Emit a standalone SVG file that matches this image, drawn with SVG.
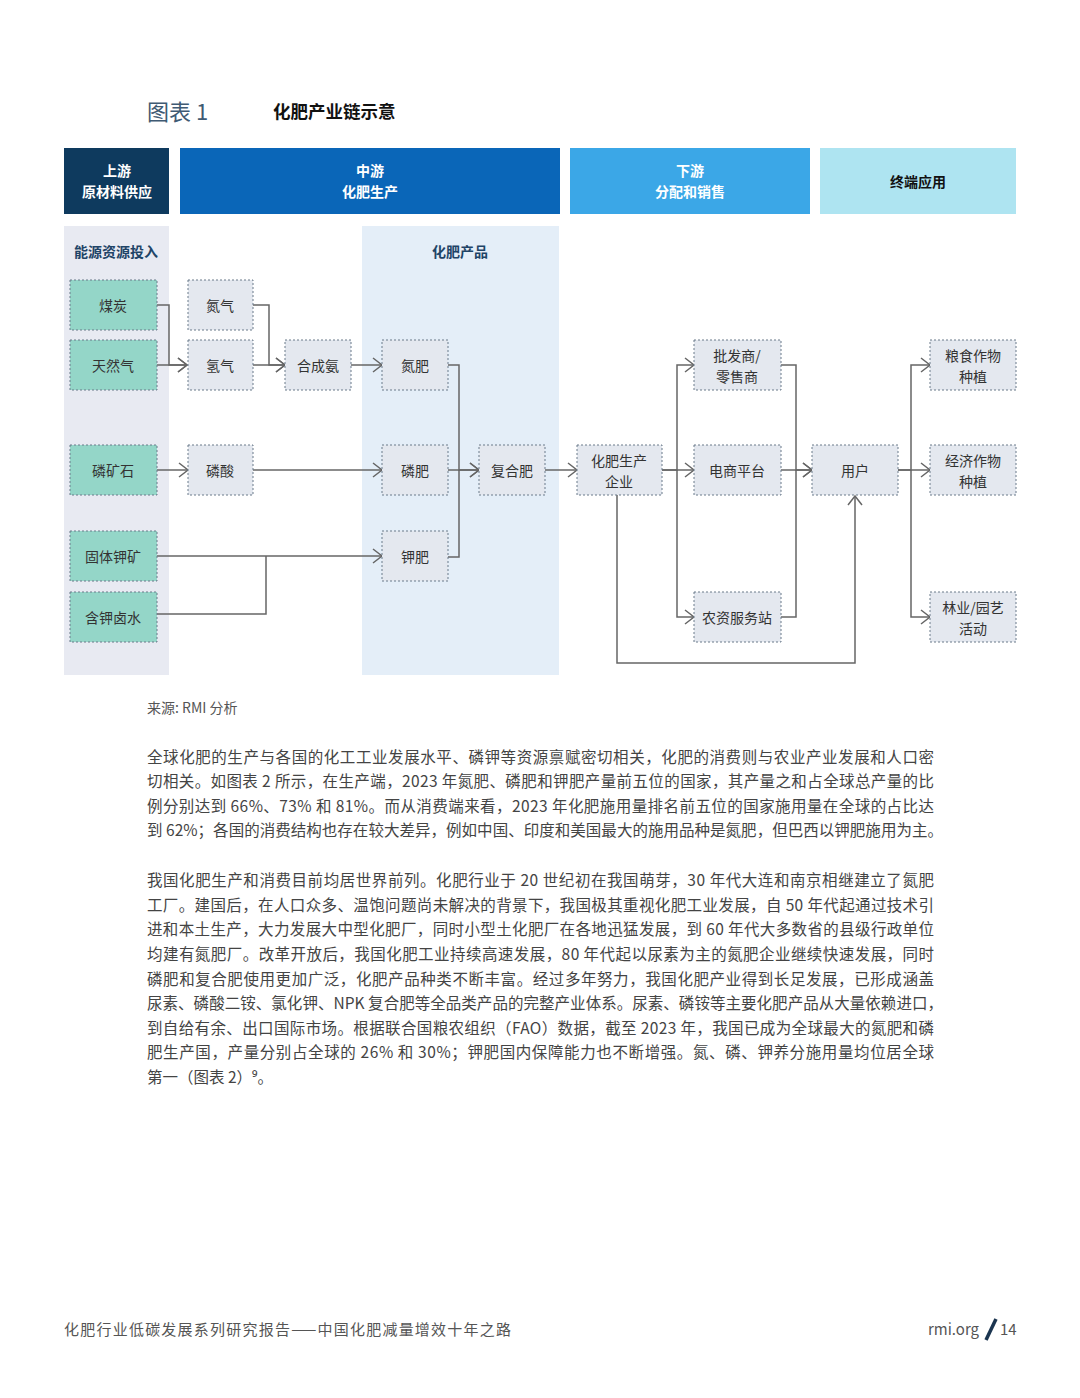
<svg xmlns="http://www.w3.org/2000/svg" width="1080" height="1398" viewBox="0 0 1080 1398">
<defs>
<marker id="arr" markerUnits="userSpaceOnUse" markerWidth="14" markerHeight="16" viewBox="0 0 14 16" refX="10" refY="8" orient="auto">
<path d="M1,1 L10,8 L1,15" fill="none" stroke="#666" stroke-width="1.5"/>
</marker>
<style>
text{font-family:"Noto Sans CJK SC","Noto Sans",sans-serif;}
.hd{fill:#fff;font-size:14px;font-weight:700;text-anchor:middle;dominant-baseline:central;}
.sec{fill:#1f4467;font-size:14px;font-weight:700;dominant-baseline:central;}
.teal{fill:#94d6c8;stroke:#6b7b8a;stroke-width:1;stroke-dasharray:2 2;}
.gray{fill:#e4e8ef;stroke:#6b7b8a;stroke-width:1;stroke-dasharray:2 2;}
.nt{fill:#333;font-size:14px;text-anchor:middle;dominant-baseline:central;}
.ln{fill:none;stroke:#666;stroke-width:1.5;}
.p{fill:#444;font-size:15.5px;}
</style>
</defs>
<rect width="1080" height="1398" fill="#fff"/>

<g id="title">
<text x="147" y="120" font-size="22" fill="#3f5a73">图表 1</text>
<text x="273" y="118" font-size="17.5" font-weight="700" fill="#111">化肥产业链示意</text>
</g>

<g id="headers">
<rect x="64" y="148" width="105" height="66" fill="#0e3a5e"/>
<text class="hd" x="117" y="170">上游</text>
<text class="hd" x="117" y="191">原材料供应</text>
<rect x="180" y="148" width="380" height="66" fill="#0a66b8"/>
<text class="hd" x="370" y="170">中游</text>
<text class="hd" x="370" y="191">化肥生产</text>
<rect x="570" y="148" width="240" height="66" fill="#3ba7e7"/>
<text class="hd" x="690" y="170">下游</text>
<text class="hd" x="690" y="191">分配和销售</text>
<rect x="820" y="148" width="196" height="66" fill="#aee4f1"/>
<text class="hd" x="918" y="181" style="fill:#111">终端应用</text>
</g>

<g id="backgrounds">
<rect x="64" y="226" width="105" height="449" fill="#e8eaf2"/>
<text class="sec" x="74" y="251">能源资源投入</text>
<rect x="362" y="226" width="197" height="449" fill="#e4eef8"/>
<text class="sec" x="460" y="251" text-anchor="middle">化肥产品</text>
</g>

<g id="connectors">
<path class="ln" d="M157,305 H169 V365 H187" marker-end="url(#arr)"/>
<path class="ln" d="M157,365 H187" marker-end="url(#arr)"/>
<path class="ln" d="M253,305 H269 V365 H285" marker-end="url(#arr)"/>
<path class="ln" d="M253,365 H285" marker-end="url(#arr)"/>
<path class="ln" d="M351,365 H382" marker-end="url(#arr)"/>
<path class="ln" d="M157,470 H188" marker-end="url(#arr)"/>
<path class="ln" d="M253,470 H382" marker-end="url(#arr)"/>
<path class="ln" d="M157,556 H382" marker-end="url(#arr)"/>
<path class="ln" d="M157,614 H266 V556"/>
<path class="ln" d="M448,365 H459 V470 H479" marker-end="url(#arr)"/>
<path class="ln" d="M448,470 H479" marker-end="url(#arr)"/>
<path class="ln" d="M448,557 H459 V470"/>
<path class="ln" d="M545,470 H577" marker-end="url(#arr)"/>
<path class="ln" d="M662,470 H694" marker-end="url(#arr)"/>
<path class="ln" d="M662,470 H677 V365 H694" marker-end="url(#arr)"/>
<path class="ln" d="M677,470 V617 H694" marker-end="url(#arr)"/>
<path class="ln" d="M781,365 H796 V470 H812" marker-end="url(#arr)"/>
<path class="ln" d="M781,470 H812" marker-end="url(#arr)"/>
<path class="ln" d="M781,617 H796 V470"/>
<path class="ln" d="M898,470 H930" marker-end="url(#arr)"/>
<path class="ln" d="M898,470 H911 V365 H930" marker-end="url(#arr)"/>
<path class="ln" d="M911,470 V617 H930" marker-end="url(#arr)"/>
<path class="ln" d="M617,495 V663 H855 V496" marker-end="url(#arr)"/>
</g>

<g id="n-meitan"><rect class="teal" x="70" y="280" width="87" height="50"/><text class="nt" x="113" y="305">煤炭</text></g>
<g id="n-tianranqi"><rect class="teal" x="70" y="340" width="87" height="50"/><text class="nt" x="113" y="365">天然气</text></g>
<g id="n-linkuangshi"><rect class="teal" x="70" y="445" width="87" height="50"/><text class="nt" x="113" y="470">磷矿石</text></g>
<g id="n-guti"><rect class="teal" x="70" y="531" width="87" height="50"/><text class="nt" x="113" y="556">固体钾矿</text></g>
<g id="n-lushui"><rect class="teal" x="70" y="592" width="87" height="50"/><text class="nt" x="113" y="617">含钾卤水</text></g>

<g id="n-danqi"><rect class="gray" x="188" y="280" width="65" height="50"/><text class="nt" x="220" y="305">氮气</text></g>
<g id="n-qingqi"><rect class="gray" x="188" y="340" width="65" height="50"/><text class="nt" x="220" y="365">氢气</text></g>
<g id="n-hechengan"><rect class="gray" x="285" y="340" width="66" height="50"/><text class="nt" x="318" y="365">合成氨</text></g>
<g id="n-linsuan"><rect class="gray" x="188" y="445" width="65" height="50"/><text class="nt" x="220" y="470">磷酸</text></g>

<g id="n-danfei"><rect class="gray" x="382" y="340" width="66" height="50"/><text class="nt" x="415" y="365">氮肥</text></g>
<g id="n-linfei"><rect class="gray" x="382" y="445" width="66" height="50"/><text class="nt" x="415" y="470">磷肥</text></g>
<g id="n-jiafei"><rect class="gray" x="382" y="531" width="66" height="50"/><text class="nt" x="415" y="556">钾肥</text></g>
<g id="n-fuhefei"><rect class="gray" x="479" y="445" width="66" height="50"/><text class="nt" x="512" y="470">复合肥</text></g>

<g id="n-qiye"><rect class="gray" x="577" y="445" width="85" height="50"/><text class="nt" x="619" y="460">化肥生产</text><text class="nt" x="619" y="481">企业</text></g>
<g id="n-pifa"><rect class="gray" x="694" y="340" width="87" height="50"/><text class="nt" x="737" y="355">批发商/</text><text class="nt" x="737" y="376">零售商</text></g>
<g id="n-dianshang"><rect class="gray" x="694" y="445" width="87" height="50"/><text class="nt" x="737" y="470">电商平台</text></g>
<g id="n-nongzi"><rect class="gray" x="694" y="592" width="87" height="50"/><text class="nt" x="737" y="617">农资服务站</text></g>
<g id="n-yonghu"><rect class="gray" x="812" y="445" width="86" height="50"/><text class="nt" x="855" y="470">用户</text></g>

<g id="n-liangshi"><rect class="gray" x="930" y="340" width="86" height="50"/><text class="nt" x="973" y="355">粮食作物</text><text class="nt" x="973" y="376">种植</text></g>
<g id="n-jingji"><rect class="gray" x="930" y="445" width="86" height="50"/><text class="nt" x="973" y="460">经济作物</text><text class="nt" x="973" y="481">种植</text></g>
<g id="n-linye"><rect class="gray" x="930" y="592" width="86" height="50"/><text class="nt" x="973" y="607">林业/园艺</text><text class="nt" x="973" y="628">活动</text></g>

<g id="source">
<text x="147" y="713" font-size="14" fill="#555">来源: RMI 分析</text>
</g>

<g id="para1">
<text class="p" x="147" y="762.5" textLength="787" lengthAdjust="spacing">全球化肥的生产与各国的化工工业发展水平、磷钾等资源禀赋密切相关，化肥的消费则与农业产业发展和人口密</text>
<text class="p" x="147" y="786.5" textLength="787" lengthAdjust="spacing">切相关。如图表 2 所示，在生产端，2023 年氮肥、磷肥和钾肥产量前五位的国家，其产量之和占全球总产量的比</text>
<text class="p" x="147" y="811.5" textLength="787" lengthAdjust="spacing">例分别达到 66%、73% 和 81%。而从消费端来看，2023 年化肥施用量排名前五位的国家施用量在全球的占比达</text>
<text class="p" x="147" y="835.5" textLength="796" lengthAdjust="spacing">到 62%；各国的消费结构也存在较大差异，例如中国、印度和美国最大的施用品种是氮肥，但巴西以钾肥施用为主。</text>
</g>

<g id="para2">
<text class="p" x="147" y="885.5" textLength="787" lengthAdjust="spacing">我国化肥生产和消费目前均居世界前列。化肥行业于 20 世纪初在我国萌芽，30 年代大连和南京相继建立了氮肥</text>
<text class="p" x="147" y="910.5" textLength="787" lengthAdjust="spacing">工厂。建国后，在人口众多、温饱问题尚未解决的背景下，我国极其重视化肥工业发展，自 50 年代起通过技术引</text>
<text class="p" x="147" y="934.5" textLength="787" lengthAdjust="spacing">进和本土生产，大力发展大中型化肥厂，同时小型土化肥厂在各地迅猛发展，到 60 年代大多数省的县级行政单位</text>
<text class="p" x="147" y="959.5" textLength="787" lengthAdjust="spacing">均建有氮肥厂。改革开放后，我国化肥工业持续高速发展，80 年代起以尿素为主的氮肥企业继续快速发展，同时</text>
<text class="p" x="147" y="984.5" textLength="787" lengthAdjust="spacing">磷肥和复合肥使用更加广泛，化肥产品种类不断丰富。经过多年努力，我国化肥产业得到长足发展，已形成涵盖</text>
<text class="p" x="147" y="1008.5" textLength="796" lengthAdjust="spacing">尿素、磷酸二铵、氯化钾、NPK 复合肥等全品类产品的完整产业体系。尿素、磷铵等主要化肥产品从大量依赖进口，</text>
<text class="p" x="147" y="1033.5" textLength="787" lengthAdjust="spacing">到自给有余、出口国际市场。根据联合国粮农组织（FAO）数据，截至 2023 年，我国已成为全球最大的氮肥和磷</text>
<text class="p" x="147" y="1057.5" textLength="787" lengthAdjust="spacing">肥生产国，产量分别占全球的 26% 和 30%；钾肥国内保障能力也不断增强。氮、磷、钾养分施用量均位居全球</text>
<text class="p" x="147" y="1082.5">第一（图表 2）⁹。</text>
</g>

<g id="footer">
<text x="64" y="1334.5" font-size="15" fill="#555" textLength="447" lengthAdjust="spacing">化肥行业低碳发展系列研究报告——中国化肥减量增效十年之路</text>
<text x="979" y="1334.5" font-size="15" fill="#555" text-anchor="end">rmi.org</text>
<path d="M986,1340 L996,1319" stroke="#1b3550" stroke-width="3.5" fill="none"/>
<text x="1000" y="1334.5" font-size="15" fill="#555">14</text>
</g>
</svg>
